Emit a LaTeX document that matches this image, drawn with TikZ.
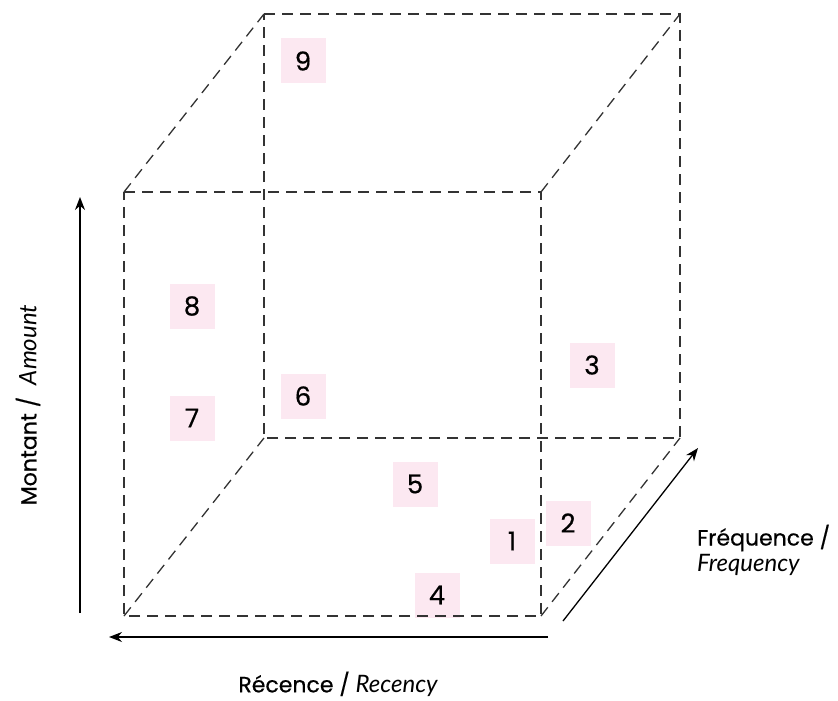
\documentclass[tikz,border=0pt]{standalone}
\usepackage{fontspec}
\setmainfont{Poppins}[FakeBold=0.5]
\newfontfamily\itfont{Lato}
\usetikzlibrary{arrows.meta}
\definecolor{boxpink}{HTML}{FCE8F1}
\definecolor{edgegrey}{HTML}{333333}
\tikzset{
  edge/.style={draw=edgegrey, line width=1.3pt, dash pattern=on 11pt off 7pt},
  axis/.style={draw=black, line width=1.3pt, -{Stealth[length=13pt,width=10pt]}},
  numbox/.style={fill=boxpink, minimum width=45pt, minimum height=45pt, inner sep=0pt, font=\fontsize{26}{26}\selectfont},
  lbl/.style={font=\fontsize{22}{26}\selectfont, inner sep=0pt},
  itl/.style={font=\fontsize{24}{26}\selectfont\itfont\itshape}
}
\begin{document}
\begin{tikzpicture}[x=1pt,y=-1pt]
\useasboundingbox (0,0) rectangle (838,701);
% cube corners
\coordinate (fTL) at (124,192);
\coordinate (fTR) at (541,192);
\coordinate (fBL) at (124,616);
\coordinate (fBR) at (541,616);
\coordinate (bTL) at (264,14);
\coordinate (bTR) at (680,14);
\coordinate (bBL) at (264,438);
\coordinate (bBR) at (680,438);
% boxes
\node[numbox] (n9) at (303,61) {9};
\node[numbox] (n8) at (192,306) {8};
\node[numbox] (n7) at (192,418) {7};
\node[numbox] (n6) at (303,396) {6};
\node[numbox] (n3) at (592,365) {3};
\node[numbox] (n5) at (415,484) {5};
\node[numbox] (n2) at (568,523) {2};
\node[numbox] (n1) at (512,541) {1};
\node[numbox] (n4) at (437,595) {4};
% cube edges
\draw[edge] (fTL) -- (fTR) -- (fBR) -- (fBL) -- cycle;
\draw[edge] (bTL) -- (bTR) -- (bBR) -- (bBL) -- cycle;
\draw[edge] (fTL) -- (bTL);
\draw[edge] (fTR) -- (bTR);
\draw[edge] (fBL) -- (bBL);
\draw[edge] (fBR) -- (bBR);
% axes
\coordinate (vS) at (80,613);
\coordinate (vE) at (80,197);
\coordinate (hS) at (548,637);
\coordinate (hE) at (109,637);
\coordinate (dS) at (563,621);
\coordinate (dE) at (698,448);
\draw[axis] (vS) -- (vE);
\draw[axis] (hS) -- (hE);
\draw[axis] (dS) -- (dE);
% labels
\node[lbl, rotate=90] (lm) at (28,405) {Montant /\ \ {\itfont\itshape\fontsize{24}{26}\selectfont Amount}};
\node[lbl] (lr) at (338,684) {Récence / {\itfont\itshape\fontsize{24}{26}\selectfont Recency}};
\node[lbl, anchor=west] (lf1) at (697,538) {Fréquence /};
\node[lbl, anchor=west, itl] (lf2) at (697,565) {Frequency};
\end{tikzpicture}
\end{document}
